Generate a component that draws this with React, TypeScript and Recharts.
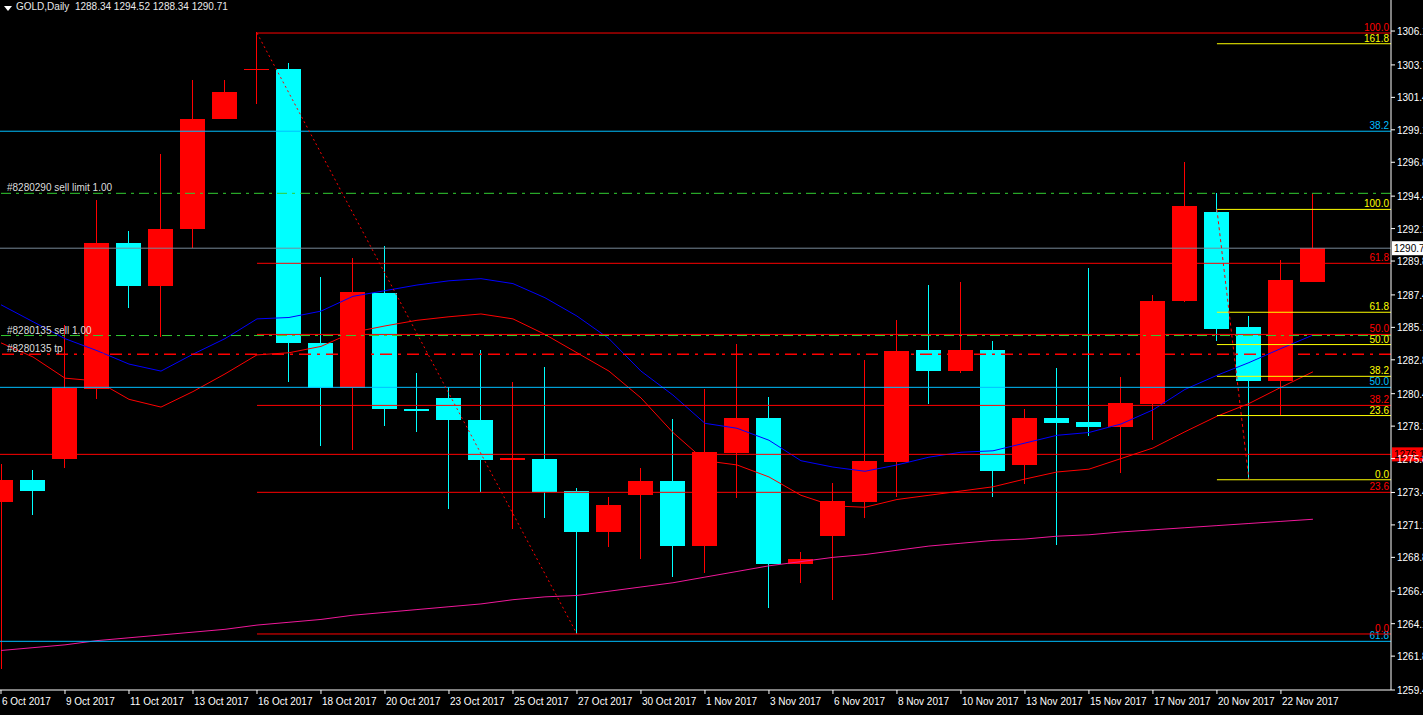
import React from "react";
import {
  ComposedChart,
  Bar,
  Line,
  XAxis,
  YAxis,
  ReferenceLine,
} from "recharts";

const FONT = "'Liberation Sans', Arial, sans-serif";

// one entry per daily bar (broker shows Sunday bars)
const dates = [
  "6 Oct 2017", "8 Oct 2017", "9 Oct 2017", "10 Oct 2017", "11 Oct 2017", "12 Oct 2017",
  "13 Oct 2017", "15 Oct 2017", "16 Oct 2017", "17 Oct 2017", "18 Oct 2017", "19 Oct 2017",
  "20 Oct 2017", "22 Oct 2017", "23 Oct 2017", "24 Oct 2017", "25 Oct 2017", "26 Oct 2017",
  "27 Oct 2017", "29 Oct 2017", "30 Oct 2017", "31 Oct 2017", "1 Nov 2017", "2 Nov 2017",
  "3 Nov 2017", "5 Nov 2017", "6 Nov 2017", "7 Nov 2017", "8 Nov 2017", "9 Nov 2017",
  "10 Nov 2017", "12 Nov 2017", "13 Nov 2017", "14 Nov 2017", "15 Nov 2017", "16 Nov 2017",
  "17 Nov 2017", "19 Nov 2017", "20 Nov 2017", "21 Nov 2017", "22 Nov 2017", "23 Nov 2017",
];

const opens = [
  1272.7, 1274.3, 1275.8, 1280.7, 1291.1, 1288.0, 1292.1, 1299.9, 1303.4, 1303.4, 1284.0, 1280.8,
  1287.5, 1279.3, 1280.1, 1278.5, 1275.7, 1275.8, 1273.5, 1270.6, 1273.2, 1274.2, 1269.6, 1276.2,
  1278.7, 1268.35, 1270.3, 1272.7, 1275.55, 1283.5, 1282.0, 1283.5, 1275.35, 1278.7, 1278.4, 1278.05,
  1279.7, 1287.0, 1293.3, 1285.1, 1281.3, 1288.34,
];
const highs = [
  1275.4, 1275.0, 1285.3, 1294.1, 1291.9, 1297.4, 1302.6, 1302.6, 1306.0, 1303.8, 1288.7, 1290.0,
  1290.9, 1281.9, 1280.9, 1283.5, 1281.2, 1282.3, 1273.7, 1273.1, 1275.1, 1278.6, 1280.7, 1283.9,
  1280.2, 1269.2, 1274.1, 1282.8, 1285.6, 1288.1, 1288.3, 1284.1, 1279.3, 1282.2, 1289.3, 1281.6,
  1287.4, 1296.8, 1294.6, 1285.9, 1289.9, 1294.52,
];
const lows = [
  1260.9, 1271.8, 1275.1, 1280.0, 1286.5, 1284.4, 1290.7, 1299.85, 1300.9, 1281.2, 1276.7, 1276.4,
  1278.1, 1277.7, 1272.2, 1273.4, 1270.8, 1271.6, 1263.4, 1269.5, 1268.7, 1267.4, 1267.7, 1273.0,
  1265.2, 1267.0, 1265.8, 1271.6, 1273.1, 1279.7, 1281.9, 1273.1, 1274.0, 1269.7, 1277.4, 1274.8,
  1277.1, 1286.9, 1284.1, 1274.3, 1278.9, 1288.34,
];
const closes = [
  1274.3, 1273.5, 1280.8, 1291.1, 1288.0, 1292.1, 1299.9, 1301.8, 1303.4, 1284.0, 1280.8, 1287.6,
  1279.3, 1279.2, 1278.5, 1275.7, 1275.85, 1273.4, 1270.6, 1272.5, 1274.2, 1269.6, 1276.3, 1278.7,
  1268.3, 1268.65, 1272.8, 1275.6, 1283.4, 1282.0, 1283.5, 1274.9, 1278.7, 1278.35, 1278.05, 1279.75,
  1287.0, 1293.7, 1285.0, 1281.3, 1288.45, 1290.71,
];

// moving averages
const maFast = [
  1286.7, 1285.5, 1284.3, 1283.45, 1282.5, 1282.0, 1283.2, 1284.3, 1285.7, 1285.8, 1286.25, 1287.3,
  1287.7, 1288.1, 1288.4, 1288.55, 1288.2, 1287.2, 1285.9, 1284.3, 1282.0, 1280.3, 1278.3, 1277.95,
  1277.1, 1275.65, 1275.2, 1274.9, 1275.35, 1275.9, 1276.25, 1276.35, 1276.9, 1277.45, 1277.65, 1278.25,
  1279.25, 1280.7, 1281.7, 1282.6, 1283.6, 1284.55,
];
const maMid = [
  1284.0, 1283.0, 1281.5, 1281.3, 1280.0, 1279.45, 1280.55, 1281.8, 1283.15, 1283.3, 1283.75, 1284.75,
  1285.2, 1285.6, 1285.85, 1286.05, 1285.7, 1284.6, 1283.3, 1282.0, 1280.1, 1277.65, 1275.65, 1275.35,
  1274.5, 1273.2, 1272.45, 1272.35, 1272.9, 1273.2, 1273.5, 1273.8, 1274.35, 1274.85, 1275.05, 1275.8,
  1276.55, 1277.7, 1278.8, 1279.7, 1280.85, 1281.95,
];
const maSlow = [
  1262.2, 1262.4, 1262.6, 1262.9, 1263.1, 1263.3, 1263.5, 1263.7, 1264.0, 1264.2, 1264.4, 1264.7,
  1264.9, 1265.1, 1265.3, 1265.5, 1265.8, 1266.0, 1266.1, 1266.4, 1266.7, 1267.0, 1267.4, 1267.8,
  1268.2, 1268.5, 1268.8, 1269.0, 1269.3, 1269.6, 1269.8, 1270.0, 1270.1, 1270.3, 1270.4, 1270.6,
  1270.75, 1270.9, 1271.05, 1271.2, 1271.35, 1271.5,
];

const priceTicks = [
  1306.1, 1303.7, 1301.4, 1299.1, 1296.8, 1294.4, 1292.1, 1289.8, 1287.4, 1285.1, 1282.8,
  1280.4, 1278.1, 1275.8, 1273.4, 1271.1, 1268.8, 1266.4, 1264.1, 1261.8, 1259.4,
];

// fibo objects
const redFibLabels = ["100.0", "61.8", "50.0", "38.2", "23.6", "0.0"];
const redFibPrices = [1305.96, 1289.64, 1284.6, 1279.57, 1273.41, 1263.37];
const redFibStart = 8;
const redFibEnd = 18;

const yellowFibLabels = ["161.8", "100.0", "61.8", "50.0", "38.2", "23.6", "0.0"];
const yellowFibPrices = [1305.2, 1293.46, 1286.17, 1283.88, 1281.63, 1278.85, 1274.3];
const yellowFibStart = 38;
const yellowFibEnd = 39;

const blueFibLabels = ["38.2", "50.0", "61.8"];
const blueFibPrices = [1299.0, 1280.85, 1262.85];

const orderLabels = ["#8280290 sell limit 1.00", "#8280135 sell 1.00", "#8280135 tp"];
const orderPrices = [1294.6, 1284.52, 1283.19];
const orderColors = ["#32cd32", "#32cd32", "#ff0000"];

const bidPrice = 1290.71;
const alertPrice = 1276.1;

const X_MIN = -0.03125;
const X_MAX = 43.44;

const bars = dates.map((d, i) => ({
  i,
  date: d,
  open: opens[i],
  high: highs[i],
  low: lows[i],
  close: closes[i],
  range: [lows[i], highs[i]],
  maFast: maFast[i],
  maMid: maMid[i],
  maSlow: maSlow[i],
}));

const dateTicks = bars.filter((b) => b.i % 2 === 0).map((b) => b.i);

function Candle(props: any) {
  const { x, y, width, height, payload } = props;
  const top = Math.min(y, y + height);
  const h = Math.abs(height);
  const span = payload.high - payload.low || 1;
  const py = (p: number) => top + ((payload.high - p) / span) * h;
  const up = payload.close >= payload.open;
  const color = up ? "#ff0000" : "#00ffff";
  const cx = Math.round(x + width / 2) + 0.5;
  const bTop = py(Math.max(payload.open, payload.close));
  const bBot = py(Math.min(payload.open, payload.close));
  return (
    <g shapeRendering="crispEdges">
      <line x1={cx} x2={cx} y1={top} y2={top + h} stroke={color} strokeWidth={1} />
      <rect x={x} y={bTop} width={width} height={Math.max(1, bBot - bTop)} fill={color} />
    </g>
  );
}

const rightLabel = (text: string, color: string) => (props: any) => {
  const vb = props.viewBox || {};
  return (
    <text
      x={(vb.x ?? 0) + (vb.width ?? 0) - 2}
      y={(vb.y ?? 0) - 2}
      fill={color}
      fontSize={10}
      fontFamily={FONT}
      textAnchor="end"
    >
      {text}
    </text>
  );
};

const leftLabel = (text: string) => (props: any) => {
  const vb = props.viewBox || {};
  return (
    <text x={(vb.x ?? 0) + 7} y={(vb.y ?? 0) - 2} fill="#dcdcdc" fontSize={10} fontFamily={FONT}>
      {text}
    </text>
  );
};

const axisBox = (text: string, bg: string, fg: string) => (props: any) => {
  const vb = props.viewBox || {};
  const x0 = (vb.x ?? 0) + (vb.width ?? 0) + 1;
  return (
    <g>
      <rect x={x0} y={(vb.y ?? 0) - 7} width={32} height={14} fill={bg} />
      <text x={x0 + 2} y={(vb.y ?? 0) + 4} fill={fg} fontSize={10} fontFamily={FONT}>
        {text}
      </text>
    </g>
  );
};

function PriceTick(props: any) {
  const { x, y, payload } = props;
  return (
    <text x={x} y={y + 4} fill="#ffffff" fontSize={10} fontFamily={FONT} textAnchor="start">
      {payload.value.toFixed(1)}
    </text>
  );
}

function DateTick(props: any) {
  const { x, y, payload } = props;
  return (
    <text x={x + 1} y={y + 9} fill="#ffffff" fontSize={10} fontFamily={FONT} textAnchor="start">
      {dates[payload.value]}
    </text>
  );
}

export default function App() {
  return (
    <div
      style={{
        position: "absolute",
        left: 0,
        top: 0,
        width: 1423,
        height: 715,
        background: "#000",
        overflow: "hidden",
      }}
    >
      <ComposedChart
        width={1423}
        height={715}
        data={bars}
        margin={{ top: 0, right: 0, bottom: 0, left: 0 }}
      >
        <XAxis
          dataKey="i"
          type="number"
          domain={[X_MIN, X_MAX]}
          allowDataOverflow
          ticks={dateTicks}
          interval={0}
          height={25}
          tickSize={4}
          axisLine={{ stroke: "#ffffff" }}
          tickLine={{ stroke: "#ffffff" }}
          tick={<DateTick />}
        />
        <YAxis
          orientation="right"
          type="number"
          domain={[1259.4, 1308.3]}
          allowDataOverflow
          ticks={priceTicks}
          interval={0}
          width={32}
          tickSize={4}
          tickMargin={2}
          axisLine={{ stroke: "#ffffff" }}
          tickLine={{ stroke: "#ffffff" }}
          tick={<PriceTick />}
        />
        <Bar dataKey="range" barSize={25} shape={<Candle />} isAnimationActive={false} />
        <Line dataKey="maSlow" type="linear" stroke="#f0189a" strokeWidth={1} dot={false} activeDot={false} isAnimationActive={false} />
        <Line dataKey="maMid" type="linear" stroke="#ff0000" strokeWidth={1} dot={false} activeDot={false} isAnimationActive={false} />
        <Line dataKey="maFast" type="linear" stroke="#0000ff" strokeWidth={1} dot={false} activeDot={false} isAnimationActive={false} />

        {blueFibPrices.map((p, k) => (
          <ReferenceLine key={"b" + k} y={p} stroke="#00bfff" label={rightLabel(blueFibLabels[k], "#00bfff")} />
        ))}
        <ReferenceLine y={bidPrice} stroke="#778899" label={axisBox(bidPrice.toFixed(1), "#ffffff", "#000000")} />
        <ReferenceLine y={alertPrice} stroke="#ff0000" label={axisBox(alertPrice.toFixed(1), "#ff0000", "#000000")} />
        {orderPrices.map((p, k) => (
          <ReferenceLine
            key={"o" + k}
            y={p}
            stroke={orderColors[k]}
            strokeDasharray={k === 2 ? "12 6 3 6" : "10 5 3 5"}
            strokeWidth={k === 2 ? 1.5 : 1}
            label={leftLabel(orderLabels[k])}
          />
        ))}
        {redFibPrices.map((p, k) => (
          <ReferenceLine
            key={"r" + k}
            segment={[{ x: redFibStart, y: p }, { x: X_MAX, y: p }]}
            stroke="#ff0000"
            label={rightLabel(redFibLabels[k], "#ff0000")}
          />
        ))}
        <ReferenceLine
          segment={[
            { x: redFibStart, y: redFibPrices[0] },
            { x: redFibEnd, y: redFibPrices[redFibPrices.length - 1] },
          ]}
          stroke="#ff0000"
          strokeDasharray="2 3"
        />
        {yellowFibPrices.map((p, k) => (
          <ReferenceLine
            key={"y" + k}
            segment={[{ x: yellowFibStart, y: p }, { x: X_MAX, y: p }]}
            stroke="#ffff00"
            label={rightLabel(yellowFibLabels[k], "#ffff00")}
          />
        ))}
        <ReferenceLine
          segment={[
            { x: yellowFibStart, y: yellowFibPrices[1] },
            { x: yellowFibEnd, y: yellowFibPrices[yellowFibPrices.length - 1] },
          ]}
          stroke="#ff0000"
          strokeDasharray="3 3"
        />
      </ComposedChart>
      <div
        style={{
          position: "absolute",
          left: 4,
          top: 6,
          width: 0,
          height: 0,
          borderLeft: "4px solid transparent",
          borderRight: "4px solid transparent",
          borderTop: "5px solid #ffffff",
        }}
      />
      <div
        style={{
          position: "absolute",
          left: 16,
          top: 1,
          color: "#e8e8e8",
          fontFamily: FONT,
          fontSize: 10,
          whiteSpace: "pre",
        }}
      >
        {"GOLD,Daily  " + [opens[41], highs[41], lows[41], closes[41]].map((v) => v.toFixed(2)).join(" ")}
      </div>
    </div>
  );
}
